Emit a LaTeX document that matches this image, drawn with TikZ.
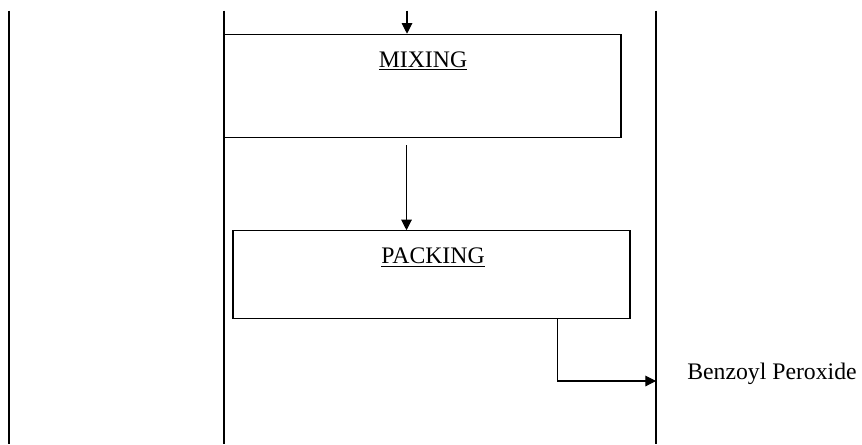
\documentclass[tikz,border=0pt]{standalone}
\usepackage{fontspec}
\setmainfont{Liberation Serif}
\usetikzlibrary{arrows.meta,positioning}

\begin{document}
\begin{tikzpicture}[x=1cm,y=1cm,
	procbox/.style={draw, line width=0.6pt, minimum width=7.94cm, inner sep=0pt},
	steptext/.style={font=\fontsize{13.5}{16}\selectfont, inner sep=0pt},
	flow/.style={line width=0.6pt, -{Triangle[width=6pt,length=6pt]}}]
\useasboundingbox (0,0) rectangle (17.24,-8.88);
% columns
\foreach \x in {0.18,4.48,13.12}{
	\draw[line width=0.6pt] (\x,-0.21) -- (\x,-8.88);
	}
% process boxes
\node[procbox, minimum height=2.07cm] (mixbox) at (8.45,-1.72) {};
\node[procbox, minimum height=1.75cm] (packbox) at (8.63,-5.49) {};
\node[steptext, anchor=base] (mixing) at (8.46,-1.34) {\underline{MIXING}};
\node[steptext, anchor=base] (packing) at (8.66,-5.27) {\underline{PACKING}};
\node[steptext, anchor=base west] (bpo) at (13.74,-7.58) {Benzoyl Peroxide};
% flow
\coordinate (feed) at (8.14,-0.21);
\coordinate (gap) at (8.13,-2.9);
\coordinate (tap) at (11.15,-6.37);
\coordinate (out) at (13.12,-7.62);
\draw[flow] (feed) -- (feed |- mixbox.north);
\draw[flow] (gap) -- (gap |- packbox.north);
\draw[flow] (tap) |- (out);
\end{tikzpicture}
\end{document}
